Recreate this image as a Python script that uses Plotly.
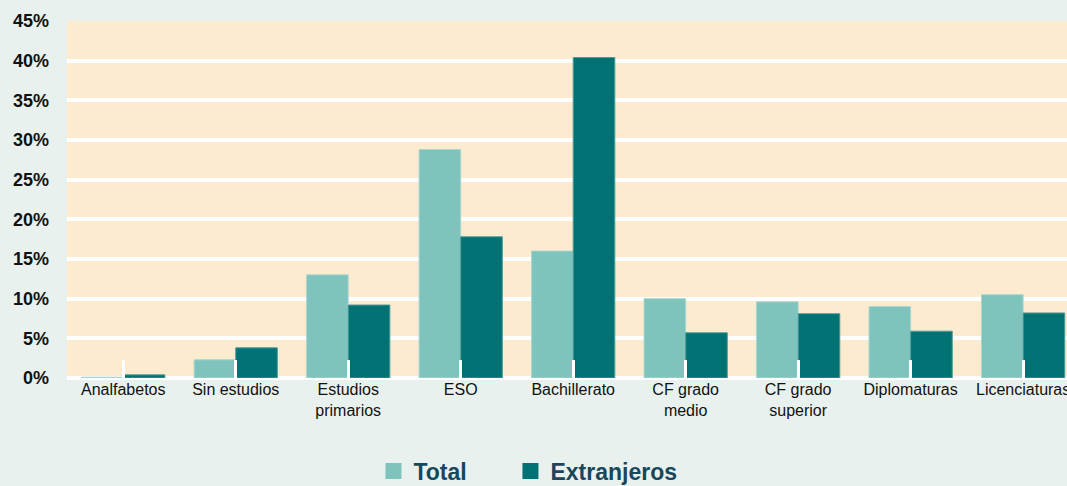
import plotly.graph_objects as go

categories = ["Analfabetos", "Sin estudios", "Estudios<br>primarios", "ESO", "Bachillerato",
              "CF grado<br>medio", "CF grado<br>superior", "Diplomaturas", "Licenciaturas"]
total = [0.1, 2.3, 13.0, 28.8, 16.0, 10.0, 9.6, 9.0, 10.5]
extranjeros = [0.4, 3.8, 9.2, 17.8, 40.4, 5.7, 8.1, 5.9, 8.2]
y_ticks = [0, 5, 10, 15, 20, 25, 30, 35, 40, 45]
y_labels = [f"{v}%" for v in y_ticks]

C_TOTAL = "#7fc4bc"
C_EXT = "#007274"
PAPER = "#e9f1ee"
PLOT = "#fdebcf"
LEG_TXT = "#17475a"
FONT = "Liberation Sans, Arial, sans-serif"

x_idx = list(range(len(categories)))

fig = go.Figure()
fig.add_trace(go.Bar(x=x_idx, y=total, name="Total", marker_color=C_TOTAL,
                     marker_line=dict(color="#a9d6d0", width=1), showlegend=False))
fig.add_trace(go.Bar(x=x_idx, y=extranjeros, name="Extranjeros", marker_color=C_EXT,
                     marker_line=dict(color="#4f9a9b", width=1), showlegend=False))
# legend entries with larger square symbols, each in its own legend box
for name, col, leg in [("Total", C_TOTAL, "legend"), ("Extranjeros", C_EXT, "legend2")]:
    fig.add_trace(go.Scatter(x=[None], y=[None], mode="markers", name=name, legend=leg,
                             marker=dict(symbol="square", size=16, color=col)))

leg_common = dict(orientation="h", xanchor="left", xref="container", yref="container",
                  y=0.031, yanchor="middle",
                  font=dict(size=23, color=LEG_TXT, family=FONT, weight="bold"),
                  bgcolor="rgba(0,0,0,0)")

fig.update_layout(
    width=1067, height=486,
    margin=dict(l=67, r=0, t=21, b=108, autoexpand=False),
    paper_bgcolor=PAPER, plot_bgcolor=PLOT,
    barmode="group", bargap=0.26, bargroupgap=0,
    font=dict(family=FONT, color="#111111"),
    legend=dict(x=0.350, **leg_common),
    legend2=dict(x=0.4784, **leg_common),
    xaxis=dict(range=[-0.5, 8.39], tickmode="array", tickvals=x_idx, ticktext=categories,
               tickfont=dict(size=16, color="#111111"), showgrid=False, zeroline=False,
               ticks="inside", tickson="boundaries", ticklen=18, tickwidth=3,
               tickcolor="white", showline=False, fixedrange=True,
               ticklabeloverflow="allow"),
    yaxis=dict(range=[0, 45], tickmode="array", tickvals=y_ticks, ticktext=y_labels,
               tickfont=dict(size=18, color="#111111", weight="bold"),
               showgrid=True, gridcolor="white", gridwidth=4,
               zeroline=True, zerolinecolor="white", zerolinewidth=4,
               ticklabelstandoff=17, fixedrange=True),
)

fig.write_html("out.html", config={"displayModeBar": False},
               post_script="document.body.style.margin='0';")
